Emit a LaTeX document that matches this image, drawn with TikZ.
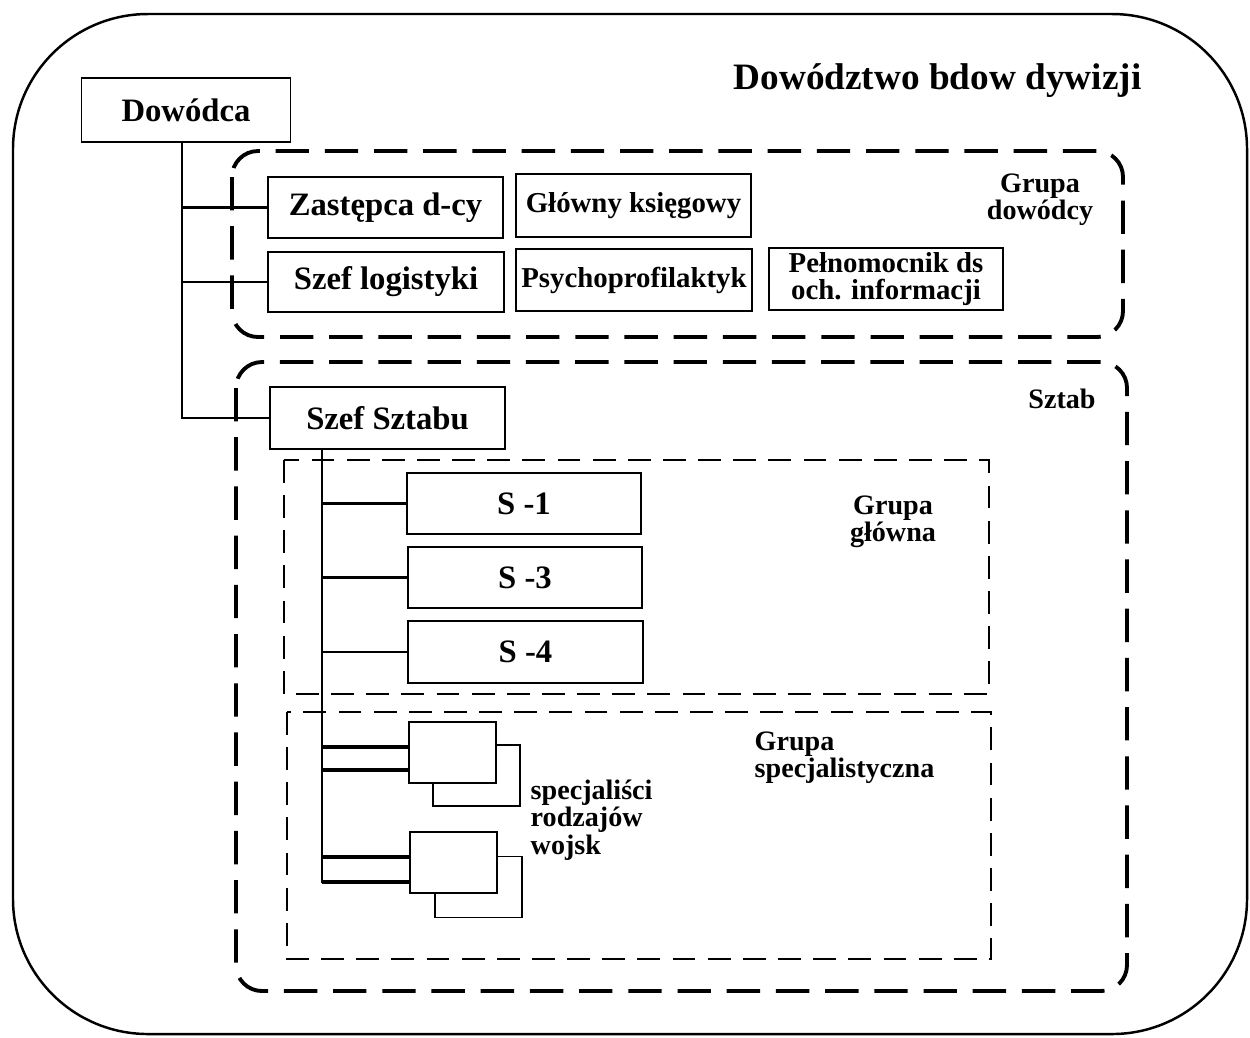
\documentclass[tikz,border=0pt]{standalone}
\usepackage{fontspec}
\setmainfont{Liberation Serif}
\usetikzlibrary{calc}
\begin{document}
\begin{tikzpicture}[x=0.1mm,y=-0.1mm,
  box/.style={draw, line width=0.5pt, fill=white, inner sep=0pt,
    font=\bfseries\fontsize{9.3}{10}\selectfont},
  smallbox/.style={box, align=center, font=\bfseries\fontsize{8.2}{7.5}\selectfont},
  backbox/.style={draw, line width=0.4pt, fill=white, inner sep=0pt,
    minimum width=8.7mm, minimum height=6.1mm},
  frontbox/.style={draw, line width=0.5pt, fill=white, inner sep=0pt,
    minimum width=8.7mm, minimum height=6.1mm},
  conn/.style={line width=0.75pt},
  heavyconn/.style={line width=0.9pt},
  grouprule/.style={line width=1.1pt, dash pattern=on 9.5pt off 4.5pt, rounded corners=2.6mm},
  subrule/.style={line width=0.7pt, dash pattern=on 6.5pt off 3.5pt},
  lbl/.style={inner sep=0pt, align=center, font=\bfseries\fontsize{8}{7.8}\selectfont},
]
\useasboundingbox (0,0) rectangle (1250,1037);

% outer frame of the divisional command
\draw[line width=0.7pt, rounded corners=13.5mm] (13,14) rectangle (1247,1034);
\node[inner sep=0pt, anchor=base, font=\bfseries\fontsize{10.6}{12}\selectfont]
  (title) at (937.5,89) {Dowództwo bdow dywizji};

% group frames
\draw[grouprule] (232,151) rectangle (1123,337);
\draw[grouprule] (236,362) rectangle (1127,991);
\draw[subrule] (284,460) rectangle (989,694);
\draw[subrule] (287,712) rectangle (991,959);

% commander and his group
\node[box, minimum width=20.9mm, minimum height=6.4mm] (dow) at (186,110) {Dowódca};
\node[box, minimum width=23.5mm, minimum height=6.1mm] (zas) at (385.5,207.5) {Zastępca d-cy};
\node[box, minimum width=23.6mm, minimum height=6.0mm] (log) at (386,282) {Szef logistyki};
\node[smallbox, minimum width=23.5mm, minimum height=6.3mm] (ksi) at (633.5,205.5) {Główny księgowy};
\node[smallbox, minimum width=23.6mm, minimum height=6.2mm] (psy) at (634,280) {Psychoprofilaktyk};
\node[smallbox, minimum width=23.4mm, minimum height=6.2mm] (pel) at (886,279) {Pełnomocnik ds\\och. informacji};
\node[lbl] (lgd) at (1040,200) {Grupa\\dowódcy};

% staff
\node[box, minimum width=23.5mm, minimum height=6.2mm] (szs) at (387.5,418) {Szef Sztabu};
\node[lbl] (lsz) at (1062,399) {Sztab};
\node[box, minimum width=23.4mm, minimum height=6.1mm] (s1) at (524,503.5) {S -1};
\node[box, minimum width=23.4mm, minimum height=6.1mm] (s3) at (525,577.5) {S -3};
\node[box, minimum width=23.5mm, minimum height=6.2mm] (s4) at (525.5,652) {S -4};
\node[lbl] (lgg) at (893,522) {Grupa\\główna};
\node[lbl, anchor=north west, align=left] (lgs) at (754,731) {Grupa\\specjalistyczna};

% specialists of the arms (stacked boxes)
\node[backbox] (sp1b) at (476.5,775.5) {};
\node[frontbox] (sp1) at (452.5,752.5) {};
\node[backbox] (sp2b) at (478.5,887) {};
\node[frontbox] (sp2) at (453.5,862.5) {};
\node[lbl, anchor=north west, align=left] (lsp) at (530,779) {specjaliści\\rodzajów\\wojsk};

% connectors
\coordinate (dtrunk) at (182,0);
\coordinate (strunk) at (322,0);
\draw[conn] (dow.south -| dtrunk) |- (szs.west);
\draw[conn] (zas.west) -- (zas.west -| dtrunk);
\draw[conn] (log.west) -- (log.west -| dtrunk);

\draw[conn] (szs.south -| strunk) |- ($(sp2.west)+(0,19.5)$);
\draw[conn] (s1.west) -- (s1.west -| strunk);
\draw[conn] (s3.west) -- (s3.west -| strunk);
\draw[conn] (s4.west) -- (s4.west -| strunk);
\draw[heavyconn] ($(sp1.west)+(0,-5.5)$) -- ($(sp1.west -| strunk)+(0,-5.5)$);
\draw[heavyconn] ($(sp1.west)+(0,17.5)$) -- ($(sp1.west -| strunk)+(0,17.5)$);
\draw[heavyconn] ($(sp2.west)+(0,-5.5)$) -- ($(sp2.west -| strunk)+(0,-5.5)$);
\draw[heavyconn] ($(sp2.west)+(0,19.5)$) -- ($(sp2.west -| strunk)+(0,19.5)$);
\end{tikzpicture}
\end{document}
